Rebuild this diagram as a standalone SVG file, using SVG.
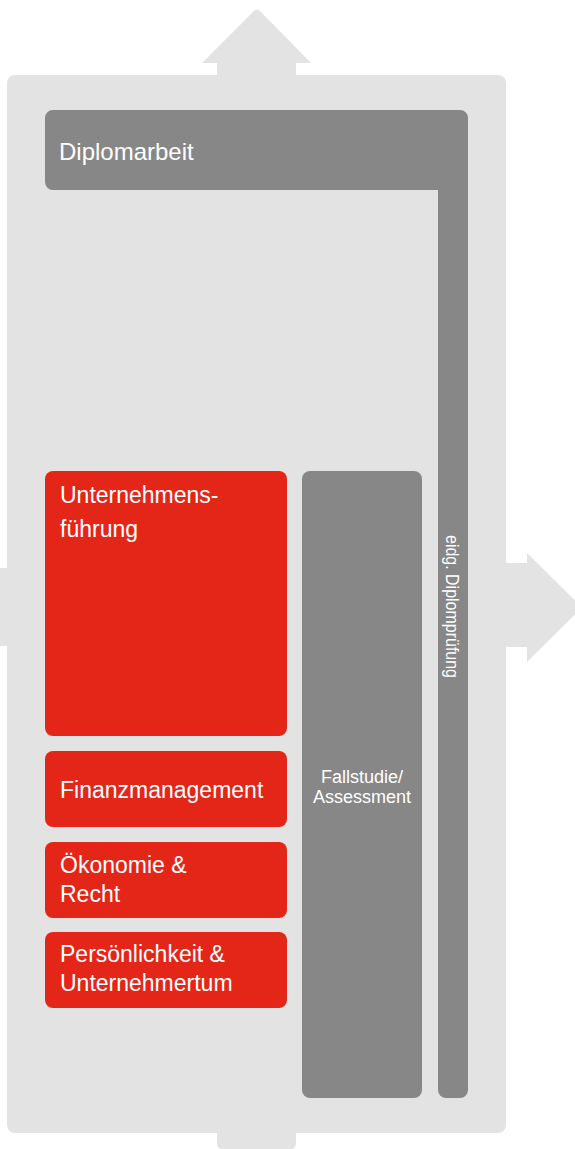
<svg xmlns="http://www.w3.org/2000/svg" width="575" height="1149" viewBox="0 0 575 1149">
<style>
.bg{fill:#e3e3e3}
.dark{fill:#878787}
.red{fill:#e42619}
.t{fill:#ffffff;font-family:"Liberation Sans",Arial,Helvetica,sans-serif;font-size:23px}
.big{font-size:24px}
.small{font-size:18px}
.vert{font-size:18px}
</style>
<g id="frame">
<rect class="bg" x="7" y="75" width="499" height="1058" rx="8"/>
<path class="bg" d="M217,76 V63 H202 L254,11 Q257,8 260,11 L311,63 H296 V76 Z"/>
<path class="bg" d="M505,563 H527 V553 L582,607.5 L527,662 V647 H505 Z"/>
<rect class="bg" x="-10" y="568" width="20" height="78"/>
<path class="bg" d="M217,1130 H296 V1143 Q296,1149 290,1149 H223 Q217,1149 217,1143 Z"/>
</g>
<g id="diplomarbeit">
<path class="dark" d="M53,110 H460 A8,8 0 0 1 468,118 V1090 A8,8 0 0 1 460,1098 H446 A8,8 0 0 1 438,1090 V190 H53 A8,8 0 0 1 45,182 V118 A8,8 0 0 1 53,110 Z"/>
<text class="t big" x="59" y="160">Diplomarbeit</text>
<text class="t vert" transform="translate(446,535) rotate(90)" textLength="143" lengthAdjust="spacingAndGlyphs">eidg. Diplomprüfung</text>
</g>
<g id="fallstudie">
<rect class="dark" x="302" y="471" width="120" height="627" rx="8"/>
<text class="t small" x="362" y="783" text-anchor="middle">Fallstudie/</text>
<text class="t small" x="362" y="803" text-anchor="middle">Assessment</text>
</g>
<g id="unternehmensfuehrung">
<rect class="red" x="45" y="471" width="242" height="265" rx="8"/>
<text class="t" x="60" y="503">Unternehmens-</text>
<text class="t" x="60" y="537">führung</text>
</g>
<g id="finanzmanagement">
<rect class="red" x="45" y="751" width="242" height="76" rx="8"/>
<text class="t" x="60" y="798">Finanzmanagement</text>
</g>
<g id="oekonomie">
<rect class="red" x="45" y="842" width="242" height="76" rx="8"/>
<text class="t" x="60" y="873">Ökonomie &amp;</text>
<text class="t" x="60" y="902">Recht</text>
</g>
<g id="persoenlichkeit">
<rect class="red" x="45" y="932" width="242" height="76" rx="8"/>
<text class="t" x="60" y="962">Persönlichkeit &amp;</text>
<text class="t" x="60" y="991">Unternehmertum</text>
</g>
<g id="connectors"/>
</svg>
